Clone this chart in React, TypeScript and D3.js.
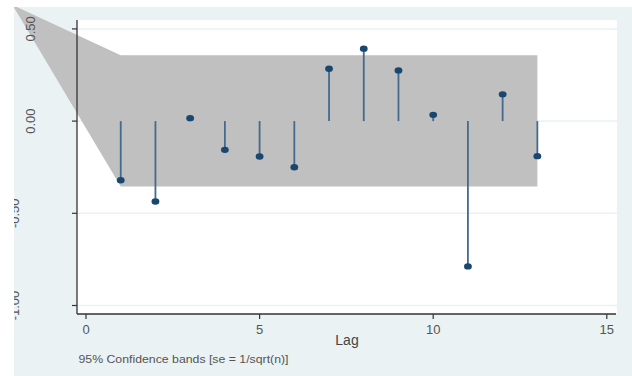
import React from 'react';
import * as d3 from 'd3';

// autocorrelations
const lags = [1, 2, 3, 4, 5, 6, 7, 8, 9, 10, 11, 12, 13];
const acValues = [-0.321, -0.436, 0.016, -0.156, -0.192, -0.25, 0.284, 0.393, 0.275, 0.034, -0.788, 0.145, -0.19];

// confidence band (starts off to the upper left, clipped by the frame)
const bandLags = [-2.12, 1, 13];
const bandUpper = [0.63, 0.357, 0.357];
const bandLower = [0.63, -0.354, -0.354];

const yTicks = [0.5, 0, -0.5, -1];
const yTickLabels = ['0.50', '0.00', '-0.50', '-1.00'];
const xTicks = [0, 5, 10, 15];

const W = 632;
const H = 376;

const App = () => {
  const x = d3.scaleLinear().domain([0, 15]).range([86, 606.8]);
  const y = d3.scaleLinear().domain([0, 0.5]).range([121.1, 28.9]);

  const plot = { left: 77, right: 617, top: 20, bottom: 314 };

  const bandPts = bandLags.map((l, i) => ({ l, hi: bandUpper[i], lo: bandLower[i] }));
  const band = d3
    .area<{ l: number; hi: number; lo: number }>()
    .x((d) => x(d.l))
    .y0((d) => y(d.lo))
    .y1((d) => y(d.hi));

  const font = '"Liberation Sans", Arial, sans-serif';

  return (
    <svg
      width={W}
      height={H}
      style={{ position: 'absolute', left: 0, top: 0, display: 'block', background: '#fff' }}
      fontFamily={font}
    >
      <defs>
        <clipPath id="frame">
          <rect x={14} y={7} width={W - 14} height={H - 7} />
        </clipPath>
      </defs>

      {/* outer graph region */}
      <rect x={14} y={7} width={W - 14} height={H - 7} fill="#eaf2f3" />
      {/* plot region */}
      <rect x={plot.left} y={plot.top} width={plot.right - plot.left} height={plot.bottom - plot.top} fill="#fff" />

      {/* gridlines */}
      {yTicks.map((t) => (
        <line key={t} x1={plot.left} x2={plot.right} y1={y(t)} y2={y(t)} stroke="#eaf2f3" strokeWidth={1.5} />
      ))}

      {/* confidence band */}
      <path d={band(bandPts) ?? ''} fill="#c0c0c0" clipPath="url(#frame)" />

      {/* stems */}
      {lags.map((l, i) => (
        <g key={l}>
          <line x1={x(l)} x2={x(l)} y1={y(0)} y2={y(acValues[i])} stroke="#436a8f" strokeWidth={1.8} />
          <ellipse cx={x(l)} cy={y(acValues[i])} rx={3.9} ry={3.2} fill="#1a476f" />
        </g>
      ))}

      {/* axes */}
      <line x1={plot.left} x2={plot.left} y1={plot.top} y2={plot.bottom} stroke="#333" strokeWidth={1.3} />
      <line x1={plot.left} x2={plot.right - 1} y1={plot.bottom} y2={plot.bottom} stroke="#333" strokeWidth={1.3} />

      {/* y ticks and labels */}
      <g clipPath="url(#frame)">
        {yTicks.map((t, i) => (
          <g key={t}>
            <line x1={plot.left - 5} x2={plot.left} y1={y(t)} y2={y(t)} stroke="#333" strokeWidth={1.2} />
            <text
              transform={`translate(${t >= 0 ? 35 : 18.7},${y(t)}) rotate(-90)`}
              textAnchor="middle"
              fontSize={13}
              fill="#555"
            >
              {yTickLabels[i]}
            </text>
          </g>
        ))}
      </g>

      {/* x ticks and labels */}
      {xTicks.map((t) => (
        <g key={t}>
          <line x1={x(t)} x2={x(t)} y1={plot.bottom} y2={plot.bottom + 5} stroke="#333" strokeWidth={1.2} />
          <text x={x(t)} y={333.5} textAnchor="middle" fontSize={13} fill="#555">
            {t}
          </text>
        </g>
      ))}

      <text x={(plot.left + plot.right) / 2} y={345} textAnchor="middle" fontSize={14} fill="#444">
        Lag
      </text>

      <text x={78.5} y={362.5} fontSize={11.5} fill="#555" textLength={210} lengthAdjust="spacingAndGlyphs">
        95% Confidence bands [se = 1/sqrt(n)]
      </text>
    </svg>
  );
};

export default App;
